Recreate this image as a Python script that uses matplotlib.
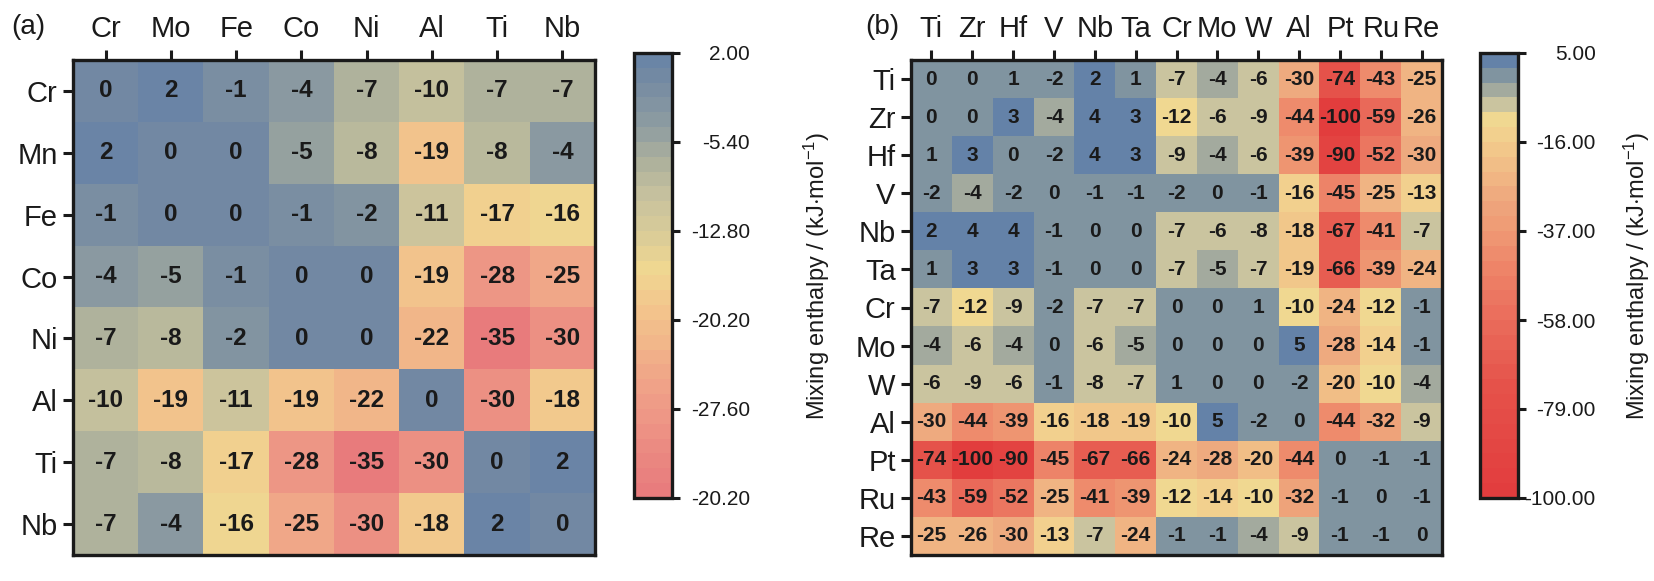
import numpy as np
import matplotlib
matplotlib.use("Agg")
import matplotlib.pyplot as plt
import matplotlib.colors as mcolors

plt.rcParams['font.family'] = ['Liberation Sans', 'DejaVu Sans']
plt.rcParams['mathtext.fontset'] = 'custom'
plt.rcParams['mathtext.rm'] = 'Liberation Sans'
plt.rcParams['mathtext.it'] = 'Liberation Sans:italic'

# ---------------- data ----------------
rows_a = ["Cr", "Mn", "Fe", "Co", "Ni", "Al", "Ti", "Nb"]
cols_a = ["Cr", "Mo", "Fe", "Co", "Ni", "Al", "Ti", "Nb"]
vals_a = [
    [0, 2, -1, -4, -7, -10, -7, -7],
    [2, 0, 0, -5, -8, -19, -8, -4],
    [-1, 0, 0, -1, -2, -11, -17, -16],
    [-4, -5, -1, 0, 0, -19, -28, -25],
    [-7, -8, -2, 0, 0, -22, -35, -30],
    [-10, -19, -11, -19, -22, 0, -30, -18],
    [-7, -8, -17, -28, -35, -30, 0, 2],
    [-7, -4, -16, -25, -30, -18, 2, 0],
]
cbar_ticks_a = [2.0, -5.4, -12.8, -20.2, -27.6, -35.0]
cbar_labels_a = ["2.00", "-5.40", "-12.80", "-20.20", "-27.60", "-20.20"]

labels_b = ["Ti", "Zr", "Hf", "V", "Nb", "Ta", "Cr", "Mo", "W", "Al", "Pt", "Ru", "Re"]
vals_b = [
    [0, 0, 1, -2, 2, 1, -7, -4, -6, -30, -74, -43, -25],
    [0, 0, 3, -4, 4, 3, -12, -6, -9, -44, -100, -59, -26],
    [1, 3, 0, -2, 4, 3, -9, -4, -6, -39, -90, -52, -30],
    [-2, -4, -2, 0, -1, -1, -2, 0, -1, -16, -45, -25, -13],
    [2, 4, 4, -1, 0, 0, -7, -6, -8, -18, -67, -41, -7],
    [1, 3, 3, -1, 0, 0, -7, -5, -7, -19, -66, -39, -24],
    [-7, -12, -9, -2, -7, -7, 0, 0, 1, -10, -24, -12, -1],
    [-4, -6, -4, 0, -6, -5, 0, 0, 0, 5, -28, -14, -1],
    [-6, -9, -6, -1, -8, -7, 1, 0, 0, -2, -20, -10, -4],
    [-30, -44, -39, -16, -18, -19, -10, 5, -2, 0, -44, -32, -9],
    [-74, -100, -90, -45, -67, -66, -24, -28, -20, -44, 0, -1, -1],
    [-43, -59, -52, -25, -41, -39, -12, -14, -10, -32, -1, 0, -1],
    [-25, -26, -30, -13, -7, -24, -1, -1, -4, -9, -1, -1, 0],
]
cbar_ticks_b = [5.0, -16.0, -37.0, -58.0, -79.0, -100.0]
cbar_labels_b = ["5.00", "-16.00", "-37.00", "-58.00", "-79.00", "-100.00"]

range_a = (-35.0, 2.0)
range_b = (-100.0, 5.0)
n_levels = 30

# colour anchors (value, colour)
anch_a = [(2, '#6683a8'), (0, '#7389a3'), (-4, '#8d9ca1'), (-7, '#adb19c'),
          (-10, '#c7c29e'), (-13, '#d9cb98'), (-16, '#f0d791'), (-19, '#f3c68d'),
          (-22, '#f2b78a'), (-25, '#f0a588'), (-28, '#ee9886'), (-30, '#ec8e83'),
          (-35, '#e8797c')]
anch_b = [(3.25, '#6482a8'), (-0.25, '#8094a0'), (-3.75, '#a3aa9e'), (-7.25, '#cac49f'),
          (-10.75, '#f0d891'), (-14.25, '#f2d08e'), (-24, '#f1b784'), (-30, '#eea67d'),
          (-37, '#ef9a74'), (-44, '#ee876a'), (-58, '#ea6c5b'), (-74, '#e5524a'),
          (-100, '#e23c3d')]


def stepped_cmap(anchors, vmin, vmax, n):
    centers = vmin + (np.arange(n) + 0.5) * (vmax - vmin) / n
    anchors = sorted(anchors, key=lambda t: t[0])
    av = np.array([a[0] for a in anchors], float)
    rgb = np.array([mcolors.to_rgb(a[1]) for a in anchors])
    cols = np.stack([np.interp(centers, av, rgb[:, i]) for i in range(3)], axis=1)
    return mcolors.ListedColormap(cols)


W, H = 1654, 581
fig = plt.figure(figsize=(W / 100, H / 100), dpi=100)


def fx(x):
    return x / W


def fy(y):
    return 1 - y / H


txt_col = '#1a1a1a'
ylab = 'Mixing enthalpy / (kJ$\\cdot$mol$^{-1}$)'


def panel(ax_box, cax_box, rows, cols, vals, vrange, anchors, ticks, ticklabels,
          fs_tick, fs_ann, toppad, leftpad, label_x, tag, tag_x):
    data = np.array(vals, float)
    ax = fig.add_axes([fx(ax_box[0]), fy(ax_box[3]), fx(ax_box[2] - ax_box[0]),
                       (ax_box[3] - ax_box[1]) / H])
    cmap = stepped_cmap(anchors, vrange[0], vrange[1], n_levels)
    norm = mcolors.Normalize(vmin=vrange[0], vmax=vrange[1])
    im = ax.imshow(data, cmap=cmap, norm=norm, aspect='auto', interpolation='nearest')
    ax.xaxis.tick_top()
    ax.set_xticks(range(len(cols)))
    ax.set_xticklabels(cols, fontsize=fs_tick, color=txt_col)
    ax.set_yticks(range(len(rows)))
    ax.set_yticklabels(rows, fontsize=fs_tick, color=txt_col)
    ax.tick_params(axis='x', which='both', top=True, bottom=False, direction='out',
                   length=7, width=2.2, pad=toppad, colors=txt_col)
    ax.tick_params(axis='y', which='both', left=True, right=False, direction='out',
                   length=7, width=2.2, pad=leftpad, colors=txt_col)
    for s in ax.spines.values():
        s.set_linewidth(2.4)
        s.set_color(txt_col)
    for i in range(data.shape[0]):
        for j in range(data.shape[1]):
            ax.text(j, i, f"{int(data[i, j])}", ha='center', va='center',
                    fontsize=fs_ann, fontweight='bold', color=txt_col)
    cax = fig.add_axes([fx(cax_box[0]), fy(cax_box[3]), fx(cax_box[2] - cax_box[0]),
                        (cax_box[3] - cax_box[1]) / H])
    cb = fig.colorbar(im, cax=cax)
    cb.set_ticks(ticks)
    cb.set_ticklabels(ticklabels)
    cb.outline.set_linewidth(2.4)
    cb.outline.set_edgecolor(txt_col)
    cax.tick_params(axis='y', direction='out', length=6, width=2.2, pad=50,
                    labelsize=15, colors=txt_col)
    for t in cax.get_yticklabels():
        t.set_ha('right')
    fig.text(fx(label_x), fy((cax_box[1] + cax_box[3]) / 2), ylab, rotation=90,
             ha='center', va='center', fontsize=17, color=txt_col)
    fig.text(fx(tag_x), fy(27), tag, fontsize=20, color=txt_col, ha='left', va='center')
    return ax


panel((73, 60, 595, 555), (634, 53, 672, 498), rows_a, cols_a, vals_a, range_a, anch_a,
      cbar_ticks_a, cbar_labels_a, 21, 17.5, 5, 4, 817, '(a)', 11)
panel((911, 60, 1442, 555), (1480, 53, 1518, 498), labels_b, labels_b, vals_b, range_b,
      anch_b, cbar_ticks_b, cbar_labels_b, 21, 15, 5, 4, 1637, '(b)', 865)

fig.savefig('out.png', dpi=100)
